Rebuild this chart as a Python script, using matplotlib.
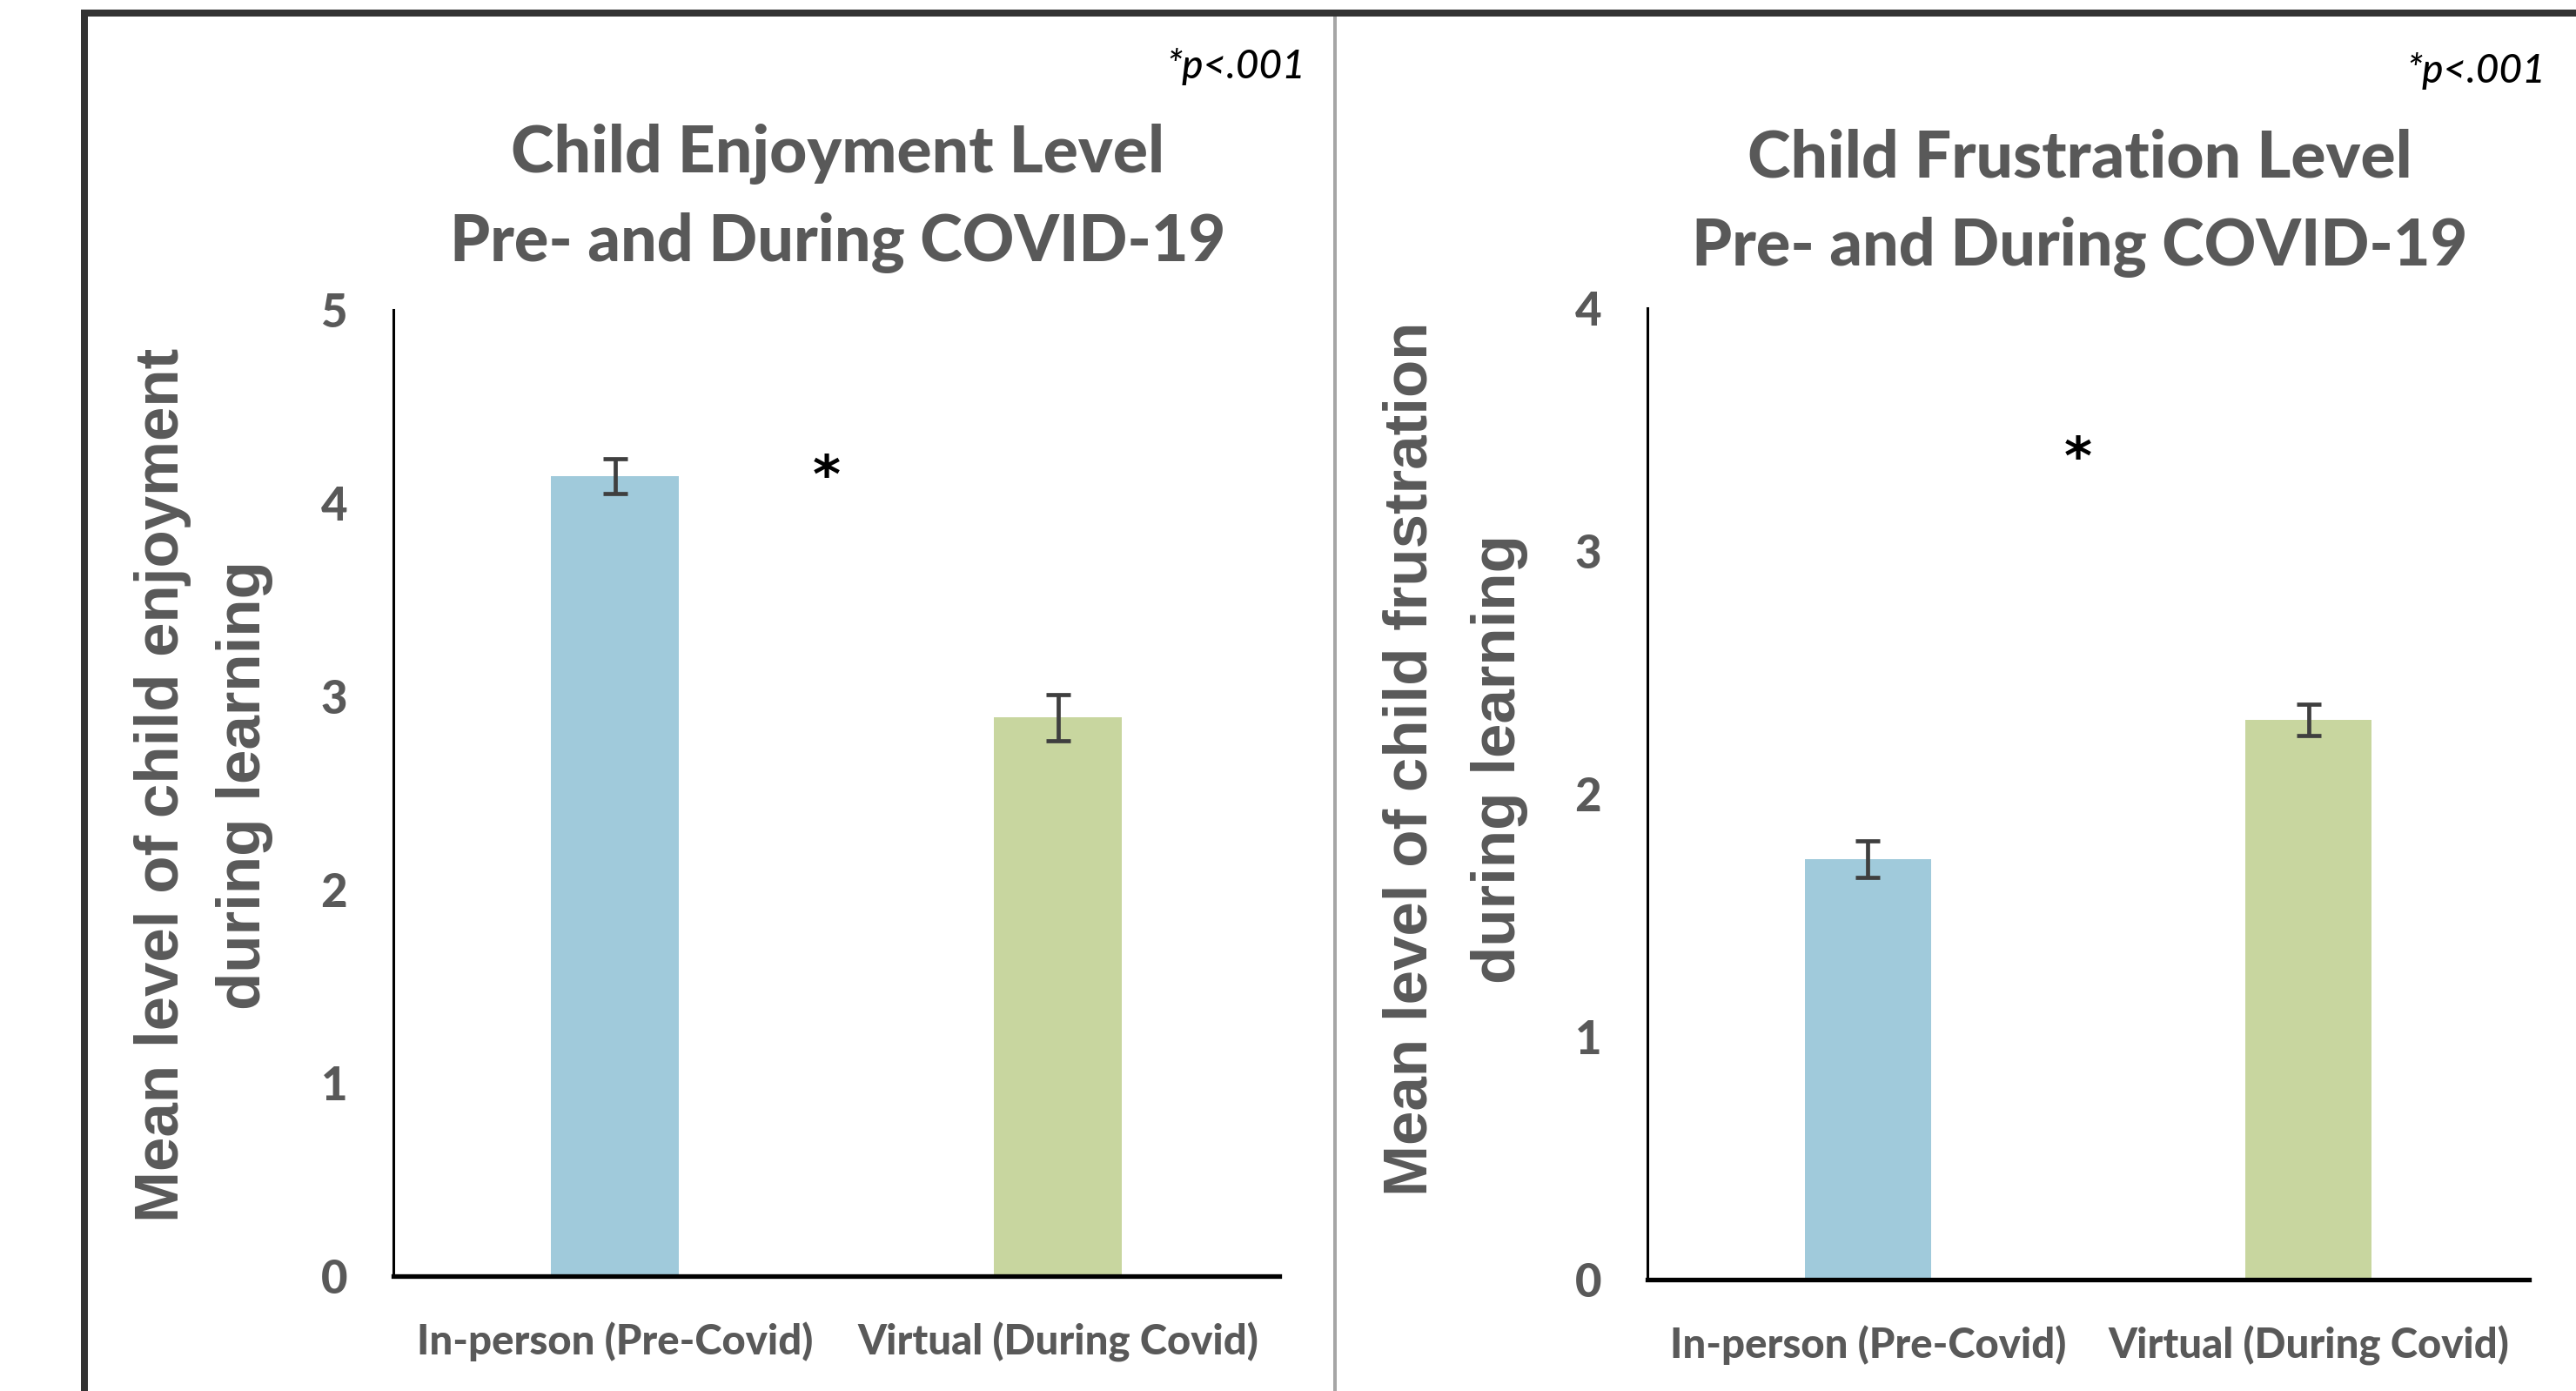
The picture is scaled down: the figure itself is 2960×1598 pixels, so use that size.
import matplotlib
matplotlib.use("Agg")
import matplotlib.pyplot as plt
from matplotlib.patches import Rectangle

# Data
categories = ["In-person (Pre-Covid)", "Virtual (During Covid)"]
enjoy_means = [4.14, 2.89]
enjoy_err = [0.09, 0.12]
frust_means = [1.73, 2.305]
frust_err = [0.075, 0.065]
enjoy_ticks = [0, 1, 2, 3, 4, 5]
frust_ticks = [0, 1, 2, 3, 4]
bar_colors = ["#a0cadb", "#c8d69f"]

W, H = 2960, 1598
gray = "#595959"
title_font = "Lato"
label_font = "Liberation Sans"


def fx(px):
    return px / W


def fy(py):
    return 1 - py / H


fig = plt.figure(figsize=(W / 100, H / 100), dpi=100)
fig.patch.set_facecolor("white")


def draw_panel(ax, means, errs, ticks, star_y):
    x = range(len(categories))
    ax.bar(x, means, width=0.287, color=bar_colors, zorder=2)
    ax.errorbar(x, means, yerr=errs, fmt="none", ecolor="#3f3f3f",
                elinewidth=3.4, capsize=10, capthick=3.4, zorder=3)
    ax.set_xlim(-0.5, 1.5)
    ax.set_ylim(ticks[0], ticks[-1])
    ax.set_yticks(ticks)
    ax.set_xticks(list(x))
    ax.set_xticklabels(categories)
    for lab in ax.get_yticklabels():
        lab.set_fontfamily(title_font)
        lab.set_fontweight("black")
        lab.set_fontsize(38)
        lab.set_color(gray)
    for lab in ax.get_xticklabels():
        lab.set_fontfamily(title_font)
        lab.set_fontweight("black")
        lab.set_fontsize(34)
        lab.set_color(gray)
    ax.tick_params(axis="y", length=0, pad=38)
    ax.tick_params(axis="x", length=0, pad=38)
    ax.spines["top"].set_visible(False)
    ax.spines["right"].set_visible(False)
    ax.spines["left"].set_linewidth(2.2)
    ax.spines["bottom"].set_linewidth(3.8)
    ax.spines["left"].set_color("black")
    ax.spines["bottom"].set_color("black")
    # significance marker
    ax.text(0.477, star_y, "*", ha="center", va="center", fontsize=44,
            fontweight="bold", fontfamily="DejaVu Sans", color="black")


# left panel: enjoyment
ax1 = fig.add_axes([fx(452), fy(1466), fx(1470) - fx(452), fy(356) - fy(1466)])
draw_panel(ax1, enjoy_means, enjoy_err, enjoy_ticks, 4.13)

# right panel: frustration
ax2 = fig.add_axes([fx(1893), fy(1470), fx(2906) - fx(1893), fy(354) - fy(1470)])
draw_panel(ax2, frust_means, frust_err, frust_ticks, 3.375)

# titles
for cx, ys, name in [(963, (198, 300), "Enjoyment"), (2390, (203, 305), "Frustration")]:
    fig.text(fx(cx), fy(ys[0]), "Child " + name + " Level", ha="center", va="baseline",
             fontsize=54, fontweight="black", fontfamily=title_font, color=gray)
    fig.text(fx(cx), fy(ys[1]), "Pre- and During COVID-19", ha="center", va="baseline",
             fontsize=53, fontweight="black", fontfamily=title_font, color=gray)

# p-value notes
fig.text(fx(1500), fy(90), "*p<.001", ha="right", va="baseline", fontsize=33,
         style="italic", fontweight="medium", fontfamily=title_font, color="black")
fig.text(fx(2925), fy(95), "*p<.001", ha="right", va="baseline", fontsize=33,
         style="italic", fontweight="medium", fontfamily=title_font, color="black")

# y axis labels (two lines each)
ylab = [(187, 902, "Mean level of child enjoyment"), (281, 902, "during learning"),
        (1622, 872, "Mean level of child frustration"), (1723, 872, "during learning")]
for px, py, txt in ylab:
    fig.text(fx(px), fy(py), txt, rotation=90, ha="center", va="center",
             fontsize=51, fontweight="bold", fontfamily=label_font, color=gray)

# outer frame and divider
fig.add_artist(Rectangle((fx(93), fy(19)), 1 - fx(93), 8 / H, transform=fig.transFigure,
                         facecolor="#333333", edgecolor="none"))
fig.add_artist(Rectangle((fx(93), 0), 8 / W, fy(11), transform=fig.transFigure,
                         facecolor="#333333", edgecolor="none"))
fig.add_artist(Rectangle((fx(1532), 0), 4 / W, fy(19), transform=fig.transFigure,
                         facecolor="#a6a6a6", edgecolor="none"))

plt.savefig("out.png", dpi=100, facecolor="white")
